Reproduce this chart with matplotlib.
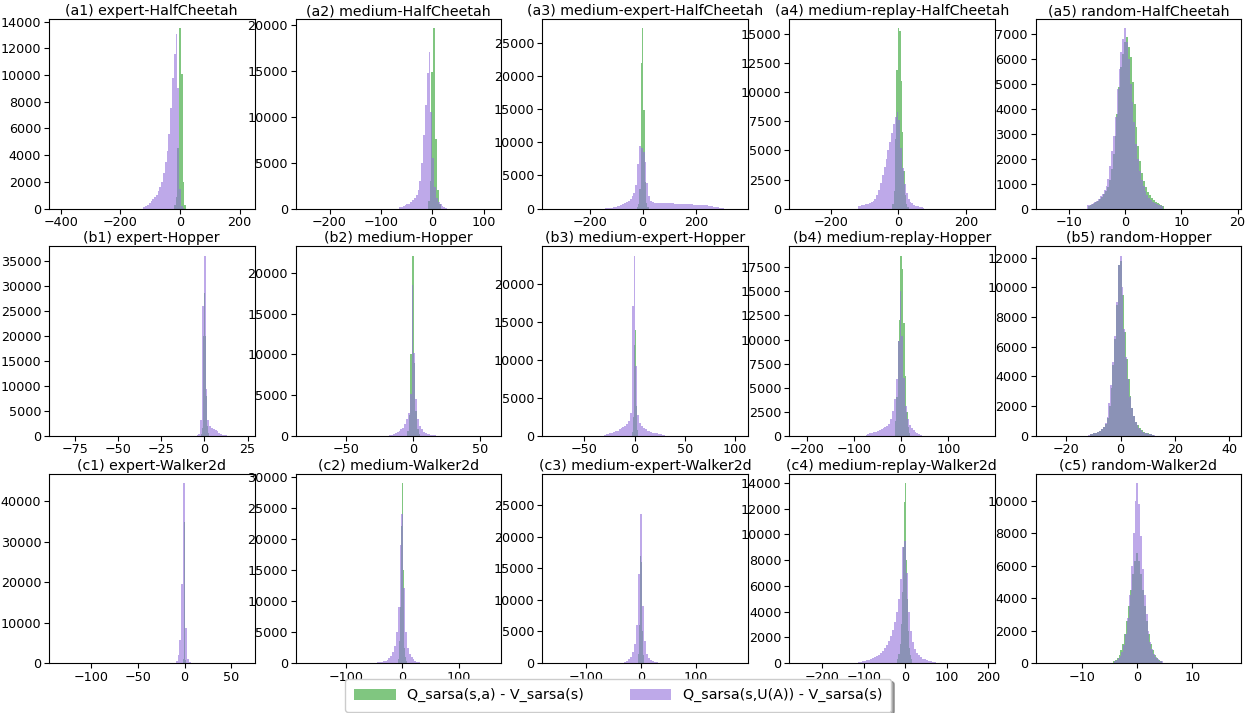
import numpy as np
import matplotlib
matplotlib.use("Agg")
import matplotlib.pyplot as plt
from matplotlib.ticker import MaxNLocator

# ---------------- titles / axis ranges ----------------
titles = [
    "(a1) expert-HalfCheetah", "(a2) medium-HalfCheetah", "(a3) medium-expert-HalfCheetah",
    "(a4) medium-replay-HalfCheetah", "(a5) random-HalfCheetah",
    "(b1) expert-Hopper", "(b2) medium-Hopper", "(b3) medium-expert-Hopper",
    "(b4) medium-replay-Hopper", "(b5) random-Hopper",
    "(c1) expert-Walker2d", "(c2) medium-Walker2d", "(c3) medium-expert-Walker2d",
    "(c4) medium-replay-Walker2d", "(c5) random-Walker2d",
]
xlims = [
    (-440, 250), (-266, 134), (-378, 396), (-325, 285), (-15.9, 20.65),
    (-90, 29), (-88, 66), (-92, 113), (-238, 198), (-31.3, 44.4),
    (-144.6, 74.6), (-189, 175), (-180, 195), (-280, 215), (-18.5, 18.9),
]

# ---------------- histogram data: (first bin edge, bin width, counts) ----------------
# green: Q_sarsa(s,a) - V_sarsa(s) ; purple: Q_sarsa(s,U(A)) - V_sarsa(s)
a1_green = (-21.0, 6.0, [300, 900, 4500, 13500, 10100, 2000, 300])
a1_purple = (-123.0, 6.0, [150, 220, 300, 450, 550, 700, 850, 1000, 1300, 1600, 2000, 2700,
                           3500, 4300, 5600, 7500, 9800, 11600, 13100, 9000, 1500, 200, 50])

a2_green = (-9.0, 3.6, [800, 3000, 14800, 19600, 7600, 2000, 500])
a2_purple = (-64.8, 3.6, [180, 220, 280, 350, 450, 550, 700, 900, 1100, 1500, 2000, 2960, 5000,
                          8000, 11260, 14700, 17000, 10500, 5500, 2300, 1200, 700, 450, 300, 200, 120])

a3_green = (-22.5, 5.0, [200, 700, 3000, 22000, 27200, 14800, 4000, 800, 200])
a3_purple = (-140.0, 7.0, [60, 80, 100, 130, 180, 250, 350, 450, 600, 720, 850, 1000, 1100, 1500,
                           1900, 2400, 3600, 6800, 9500, 9200, 8500, 7000, 3800, 1900, 1200, 950,
                           900, 880, 860, 850, 840, 830, 820, 810, 800, 790, 780, 770, 760, 750,
                           740, 730, 720, 700, 680, 660, 640, 620, 600, 580, 560, 540, 520, 500,
                           470, 440, 400, 350, 300, 250, 200, 150, 100, 60])

a4_green = (-18.0, 4.0, [400, 1500, 6000, 11900, 15500, 15300, 11000, 6600, 3200, 1200, 400, 150])
a4_purple = (-121.0, 5.5, [200, 250, 300, 340, 380, 420, 460, 540, 650, 850, 1150, 1600, 2200,
                           2900, 3600, 4300, 5000, 5700, 6500, 7300, 7900, 8300, 7600, 5200, 3500,
                           2100, 1300, 850, 600, 450, 350, 260, 200, 150, 110, 80])

a5_green = (-6.63, 0.34, [120, 150, 180, 210, 250, 300, 380, 470, 580, 720, 880, 1150, 1600, 2200,
                          2900, 3800, 4900, 5700, 6200, 6700, 6900, 6500, 6100, 5100, 4200, 3300,
                          2500, 1900, 1450, 1100, 850, 680, 530, 420, 340, 270, 220, 180, 150, 120])
a5_purple = (-6.765, 0.33, [130, 160, 190, 220, 260, 320, 400, 490, 600, 760, 900, 1200, 1700, 2300,
                            2900, 3700, 4800, 5600, 6300, 6800, 7250, 6700, 6000, 5000, 4300, 3500,
                            2600, 2000, 1500, 1150, 900, 700, 550, 430, 340, 280, 230, 190, 160,
                            130, 110])

b1_green = (-1.925, 0.55, [300, 1500, 20000, 28500, 20000, 8000, 2000, 600])
b1_purple = (-4.55, 1.05, [150, 400, 3100, 26000, 36000, 9400, 3200, 2000, 1660, 1330, 1100, 900,
                           650, 450, 250, 150, 80])

b2_green = (-4.5, 1.25, [600, 2500, 10000, 22150, 9000, 3000, 800, 200])
b2_purple = (-17.9, 1.4, [80, 120, 200, 330, 490, 600, 820, 1020, 1430, 2040, 2860, 5100, 18560,
                          10200, 4500, 2040, 1220, 820, 500, 350, 250, 200, 150, 100, 60])

b3_green = (-3.0, 1.0, [500, 2500, 12000, 14000, 4000, 800])
b3_purple = (-30.69, 1.86, [120, 200, 280, 350, 420, 500, 600, 700, 850, 1000, 1150, 1350, 1500,
                            2000, 3000, 17100, 23800, 9200, 2700, 1750, 1350, 1100, 900, 700, 580,
                            500, 420, 370, 320, 280, 200, 120, 60])

b4_green = (-13.5, 3.0, [1500, 4000, 9830, 12000, 18730, 17350, 11700, 6200, 2500, 900, 300])
b4_purple = (-75.5, 4.0, [100, 200, 300, 345, 400, 450, 520, 620, 750, 860, 950, 1035, 1210, 1730,
                          2590, 3800, 5870, 9830, 15000, 10350, 6040, 3100, 1730, 1100, 800, 600,
                          450, 300, 200, 120])

b5_green = (-11.4, 0.7, [100, 130, 160, 200, 250, 320, 430, 580, 800, 1200, 2000, 3200, 4800, 6500,
                         8800, 11500, 11800, 9500, 7000, 5200, 3800, 2700, 1900, 1350, 950, 700,
                         500, 380, 290, 220, 170, 130, 100, 70])
b5_purple = (-12.075, 0.69, [80, 110, 140, 180, 220, 270, 340, 460, 620, 850, 1300, 2200, 3400,
                             5000, 6700, 9000, 11500, 12150, 10000, 7200, 5300, 3800, 2600, 1900,
                             1350, 950, 700, 500, 380, 290, 220, 170, 130, 100, 70, 50])

c1_green = (-1.5, 0.5, [1000, 5000, 34800, 20000, 4000, 800])
c1_purple = (-9.5, 2.0, [400, 2000, 5700, 19500, 44500, 8600, 1060, 200])

c2_green = (-8.25, 1.5, [600, 1500, 3500, 9000, 22000, 29000, 15000, 6000, 2500, 1000, 400])
c2_purple = (-44.55, 3.3, [100, 150, 200, 300, 400, 550, 800, 1200, 1800, 2800, 5000, 9000, 19000,
                           24000, 12000, 5000, 2500, 1400, 900, 600, 400, 250, 150])

c3_green = (-5.25, 1.5, [1500, 6000, 17000, 28500, 16000, 5000, 1200])
c3_purple = (-30.94, 3.64, [200, 350, 600, 1000, 1700, 3000, 6000, 14000, 23500, 9000, 3500, 1500,
                            800, 500, 300, 200, 120])

c4_green = (-18.75, 2.5, [300, 700, 1500, 3000, 5500, 9000, 12500, 14000, 8000, 5000, 2500, 1200,
                          600, 300])
c4_purple = (-112.8, 4.8, [100, 120, 150, 180, 220, 270, 320, 380, 450, 550, 650, 800, 950, 1150,
                           1400, 1700, 2100, 2600, 3200, 4000, 5000, 6500, 9000, 9500, 7000, 4000,
                           2500, 1600, 1100, 800, 600, 450, 350, 280, 220, 170, 130, 100, 80])

c5_green = (-4.5, 0.36, [100, 180, 300, 500, 800, 1200, 1800, 2600, 3500, 4500, 5500, 6300, 6800,
                         6300, 5500, 4500, 3500, 2600, 1800, 1200, 800, 500, 300, 180, 100])
c5_purple = (-4.25, 0.34, [150, 200, 300, 450, 700, 1100, 1800, 2800, 4200, 6000, 8000, 10000,
                           11100, 9800, 7800, 5800, 4200, 3000, 2000, 1300, 850, 550, 350, 230,
                           150, 100])

green_series = [a1_green, a2_green, a3_green, a4_green, a5_green,
                b1_green, b2_green, b3_green, b4_green, b5_green,
                c1_green, c2_green, c3_green, c4_green, c5_green]
purple_series = [a1_purple, a2_purple, a3_purple, a4_purple, a5_purple,
                 b1_purple, b2_purple, b3_purple, b4_purple, b5_purple,
                 c1_purple, c2_purple, c3_purple, c4_purple, c5_purple]

labels = ["Q_sarsa(s,a) - V_sarsa(s)", "Q_sarsa(s,U(A)) - V_sarsa(s)"]

# ---------------- drawing ----------------
fig, axes = plt.subplots(3, 5, figsize=(12.55, 7.13), dpi=100)
fig.subplots_adjust(left=0.039, right=0.989, bottom=0.070, top=0.973, wspace=0.2, hspace=0.2)


def draw(ax, series, color, label):
    start, width, counts = series
    counts = np.asarray(counts, dtype=float)
    edges = start + width * np.arange(len(counts) + 1)
    centers = 0.5 * (edges[:-1] + edges[1:])
    return ax.hist(centers, bins=edges, weights=counts, color=color, alpha=0.6, label=label)


for i, ax in enumerate(axes.flat):
    draw(ax, green_series[i], "tab:green", labels[0])
    draw(ax, purple_series[i], "mediumpurple", labels[1])
    ax.set_xlim(*xlims[i])
    ax.set_title(titles[i], fontsize=10.2, pad=3)
    ax.yaxis.set_major_locator(MaxNLocator(nbins=8, steps=[1, 2, 2.5, 5, 10]))
    ax.xaxis.set_major_locator(MaxNLocator(nbins=5, steps=[1, 2, 2.5, 5, 10]))
    ax.tick_params(labelsize=9.2, length=3.5, pad=2)

handles, labs = axes.flat[0].get_legend_handles_labels()
fig.legend(handles, labs, loc="lower center", bbox_to_anchor=(0.4925, 0.0), ncol=2,
           fontsize=10.3, fancybox=True, shadow=True, borderaxespad=0.1, borderpad=0.65,
           handlelength=2.9, handleheight=0.8, columnspacing=3.2)

fig.savefig("out.png", dpi=100)
